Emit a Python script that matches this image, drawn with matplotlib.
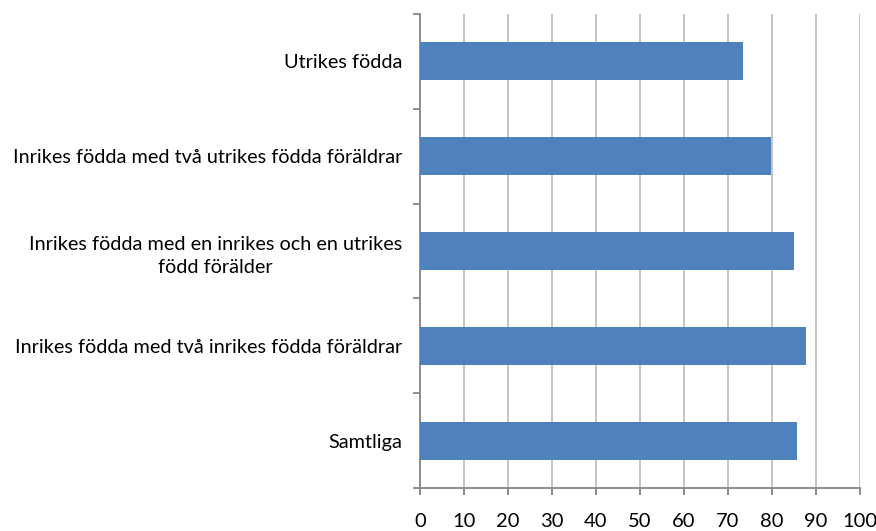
import matplotlib.pyplot as plt

plt.rcParams['font.family'] = ['Lato', 'DejaVu Sans']

categories = [
    'Samtliga',
    'Inrikes födda med två inrikes födda föräldrar',
    'Inrikes födda med en inrikes och en utrikes\nfödd förälder',
    'Inrikes födda med två utrikes födda föräldrar',
    'Utrikes födda',
]
values = [85.7, 87.7, 84.9, 79.8, 73.3]
xticks = list(range(0, 101, 10))

fig = plt.figure(figsize=(8.76, 5.31), dpi=100)
ax = fig.add_axes([420 / 876, 43 / 531, 440 / 876, 474 / 531])

pos = list(range(len(categories)))
ax.barh(pos, values, height=0.4, color='#4f81bd', zorder=3)

ax.set_xlim(0, 100)
ax.set_ylim(-0.5, len(categories) - 0.5)
ax.set_xticks(xticks)
ax.set_xticklabels([str(v) for v in xticks], fontsize=14.5)
ax.set_yticks(pos)
ax.set_yticklabels(categories, fontsize=14.3, multialignment='center', linespacing=1.45)
ax.set_yticks([p - 0.5 for p in pos] + [len(categories) - 0.5], minor=True)

ax.grid(axis='x', color='#bfbfbf', linewidth=1.3, zorder=0)
for s in ['top', 'right']:
    ax.spines[s].set_visible(False)
for s in ['left', 'bottom']:
    ax.spines[s].set_color('#868686')
    ax.spines[s].set_linewidth(1.3)

ax.tick_params(axis='y', which='major', length=0, pad=13)
ax.tick_params(axis='y', which='minor', length=5, color='#868686', width=1.3)
ax.tick_params(axis='x', length=5, color='#868686', width=1.3, pad=13)

fig.savefig('out.png', dpi=100)
